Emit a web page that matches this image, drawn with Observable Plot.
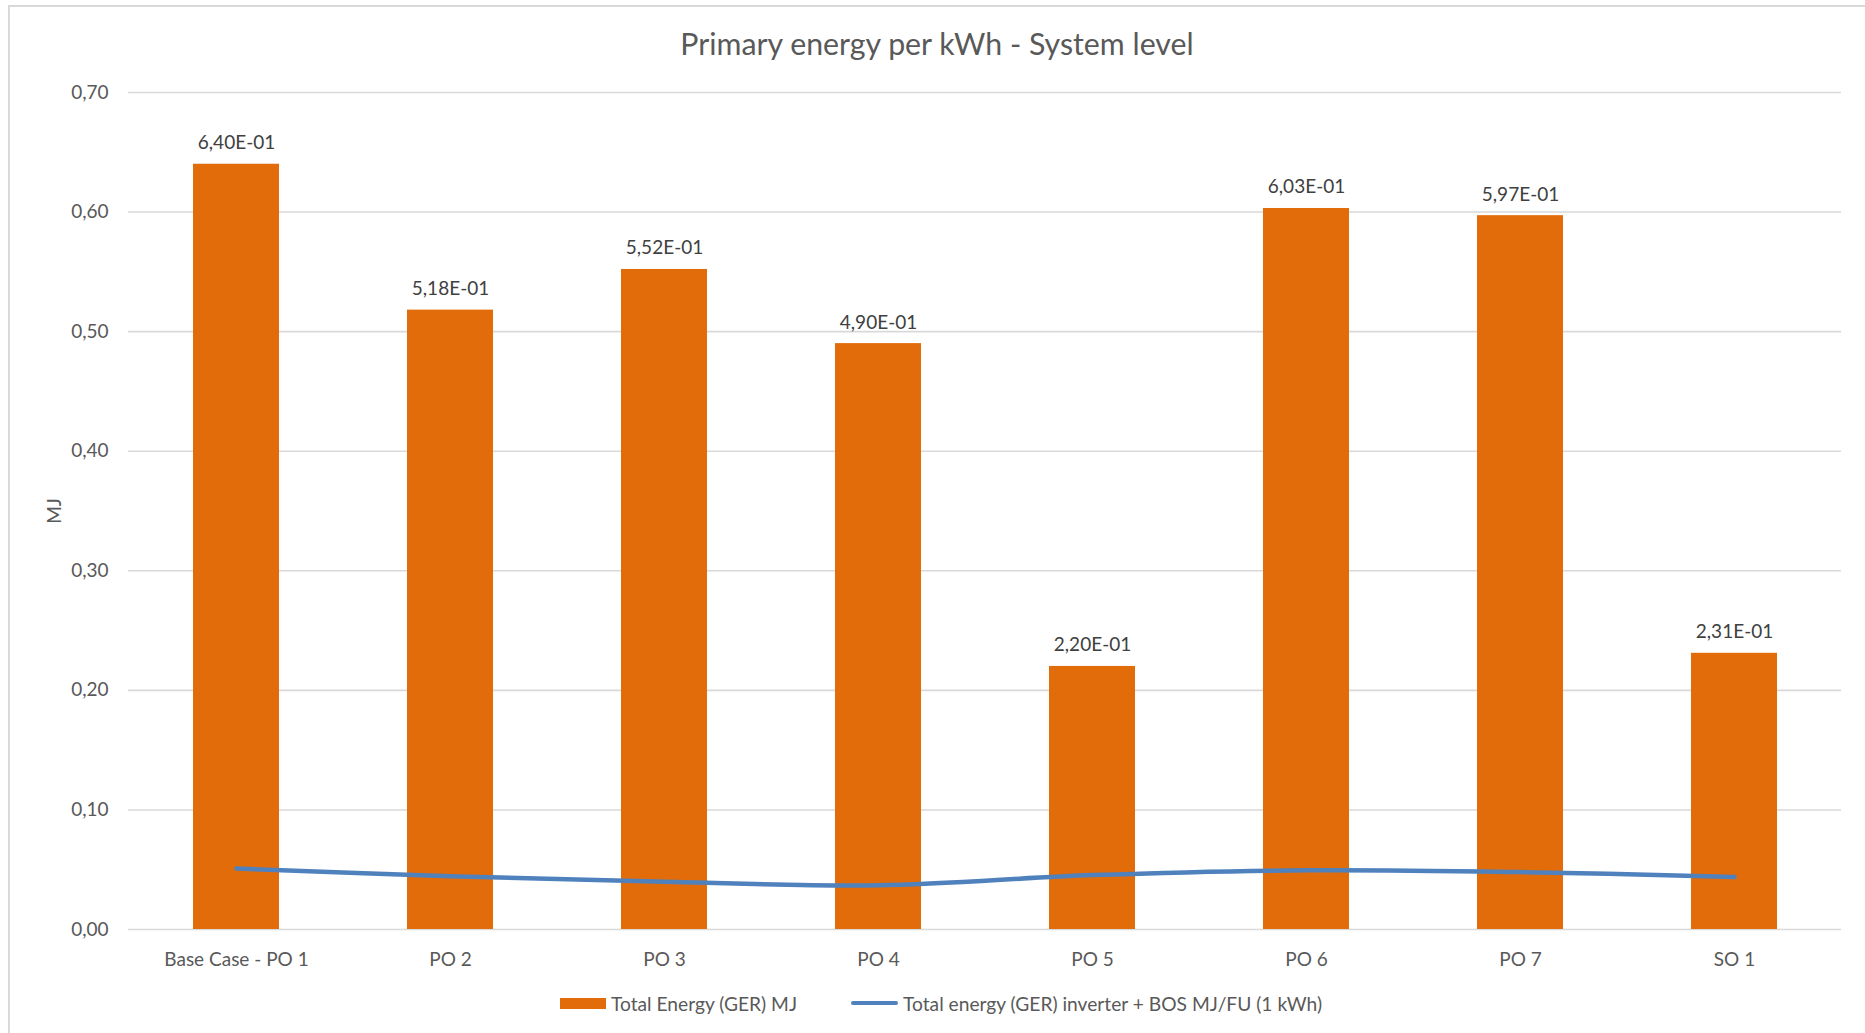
<!DOCTYPE html>
<html>
<head>
<meta charset="utf-8">
<script src="https://cdn.jsdelivr.net/npm/d3@7"></script>
<script src="https://cdn.jsdelivr.net/npm/@observablehq/plot@0.6"></script>
<style>
  html, body { margin: 0; padding: 0; background: #ffffff; }
  body { width: 1865px; height: 1033px; position: relative; overflow: hidden; font-family: Lato, "Open Sans", sans-serif; }
  #frame { position: absolute; left: 8px; top: 5px; width: 2000px; height: 2000px; border-left: 2px solid #d9d9d9; border-top: 2px solid #d9d9d9; }
  #title { position: absolute; left: 0; top: 28px; width: 1874px; text-align: center; font-size: 30.3px; line-height: 30px; color: #595959; }
  #chart { position: absolute; left: 0; top: 0; }
  #ylabel { position: absolute; left: 53px; top: 511px; transform: translate(-50%, -50%) rotate(-90deg); font-size: 19px; color: #595959; white-space: nowrap; }
  #legend { position: absolute; left: 0; top: 990px; width: 1882px; height: 26px; display: flex; justify-content: center; align-items: center; font-size: 19.2px; color: #595959; }
  .item { display: flex; align-items: center; }
  .sw-bar { width: 46px; height: 11px; background: #E36C0A; margin-right: 5px; }
  .sw-line { width: 47px; height: 4.5px; border-radius: 2px; background: #4F81BD; margin-right: 5px; }
</style>
</head>
<body>
<div id="frame"></div>
<div id="chart"></div>
<div id="title"></div>
<div id="ylabel"></div>
<div id="legend"></div>
<script>
const titleText = "Primary energy per kWh - System level";
const yAxisLabel = "MJ";
const categories = ["Base Case - PO 1", "PO 2", "PO 3", "PO 4", "PO 5", "PO 6", "PO 7", "SO 1"];
const totalEnergy = [0.640, 0.518, 0.552, 0.490, 0.220, 0.603, 0.597, 0.231];
const inverterBos = [0.051, 0.0445, 0.040, 0.037, 0.0455, 0.0495, 0.048, 0.044];
const yTicks = [0, 0.1, 0.2, 0.3, 0.4, 0.5, 0.6, 0.7];
const seriesNames = ["Total Energy (GER) MJ", "Total energy (GER) inverter + BOS MJ/FU (1 kWh)"];
const barColor = "#E36C0A";
const lineColor = "#4F81BD";

const data = categories.map((c, i) => ({cat: c, total: totalEnergy[i], inv: inverterBos[i]}));

function sci(v) {
  const [m, e] = v.toExponential(2).split("e");
  const n = parseInt(e, 10);
  return m.replace(".", ",") + "E" + (n < 0 ? "-" : "+") + String(Math.abs(n)).padStart(2, "0");
}

const chart = Plot.plot({
  width: 1865,
  height: 985,
  marginLeft: 128,
  marginRight: 24,
  marginTop: 92,
  marginBottom: 56,
  style: {fontFamily: "Lato, 'Open Sans', sans-serif", fontSize: "19px", color: "#595959", background: "transparent", overflow: "visible"},
  x: {domain: categories, paddingInner: 0.6, paddingOuter: 0.3, label: null, tickSize: 0, tickPadding: 23},
  y: {domain: [0, 0.7], ticks: yTicks, tickFormat: d => d.toFixed(2).replace(".", ","), label: null, tickSize: 0, tickPadding: 20},
  marks: [
    Plot.ruleY(yTicks, {stroke: "#d9d9d9", strokeWidth: 1.6}),
    Plot.barY(data, {x: "cat", y: "total", fill: barColor}),
    Plot.line(data, {x: "cat", y: "inv", stroke: lineColor, strokeWidth: 4.5, curve: "catmull-rom", strokeLinecap: "round", strokeLinejoin: "round"}),
    Plot.text(data, {x: "cat", y: "total", text: d => sci(d.total), dy: -15, lineAnchor: "bottom", fill: "#404040", fontSize: 19})
  ]
});
document.getElementById("chart").appendChild(chart);

document.getElementById("title").textContent = titleText;
document.getElementById("ylabel").textContent = yAxisLabel;

const legend = document.getElementById("legend");
const it1 = document.createElement("div");
it1.className = "item";
it1.innerHTML = '<div class="sw-bar"></div>';
it1.appendChild(document.createTextNode(seriesNames[0]));
const it2 = document.createElement("div");
it2.className = "item";
it2.style.marginLeft = "54px";
it2.innerHTML = '<div class="sw-line"></div>';
it2.appendChild(document.createTextNode(seriesNames[1]));
legend.appendChild(it1);
legend.appendChild(it2);
</script>
</body>
</html>
